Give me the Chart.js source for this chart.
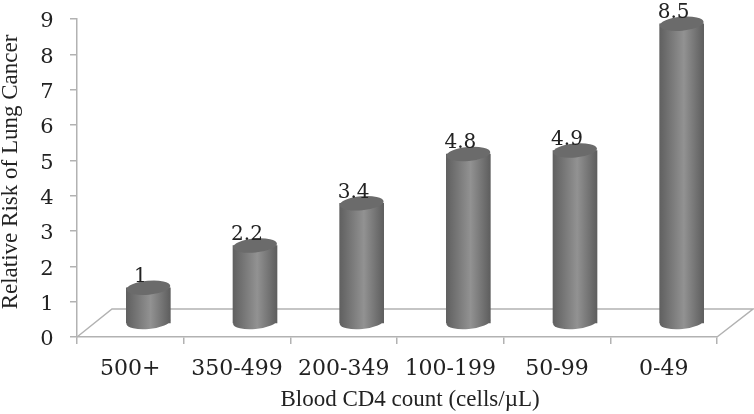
<!DOCTYPE html>
<html><head><meta charset="utf-8">
<style>html,body{margin:0;padding:0;background:#fff}#w{width:754px;height:414px}</style>
<script src="https://cdn.jsdelivr.net/npm/chart.js@4"></script></head>
<body><div id="w"><canvas id="c" width="754" height="414"></canvas></div>
<script>
const categories = ["500+","350-499","200-349","100-199","50-99","0-49"];
const risk = [1,2.2,3.4,4.8,4.9,8.5];
const riskLabels = ["1","2.2","3.4","4.8","4.9","8.5"];
const axisTicks = [0,1,2,3,4,5,6,7,8,9];
const xTitle = 'Blood CD4 count (cells/µL)';
const yTitle = 'Relative Risk of Lung Cancer';
const SERIF = '"Liberation Serif", serif';
const WIDE = '"DejaVu Serif", serif';
const LINE = '#b2b2b2';
const INK = '#222';
const DEPTH_X = 18, BACK_Y = 28, RX = 22, RY = 7, TILT = -0.09;

function cylGradient(c,x){
  const g = c.createLinearGradient(x-RX,0,x+RX,0);
  g.addColorStop(0,'#606060');
  g.addColorStop(0.55,'#929292');
  g.addColorStop(1,'#5e5e5e');
  return g;
}
function barFill(ctx){
  const ch = ctx.chart;
  if(!ch.chartArea) return '#808080';
  return cylGradient(ch.ctx,ch.scales.x.getPixelForValue(ctx.dataIndex));
}
const cylinder = {
  id:'cylinder',
  beforeDraw(ch){
    const {left,right,bottom} = ch.chartArea, c = ch.ctx;
    c.save();
    c.strokeStyle = LINE; c.lineWidth = 1.5;
    c.beginPath();
    c.moveTo(left,bottom);
    c.lineTo(left+DEPTH_X*2-1,bottom-BACK_Y);
    c.lineTo(right+DEPTH_X*2,bottom-BACK_Y);
    c.lineTo(right,bottom);
    c.stroke();
    c.restore();
  },
  beforeDatasetDraw(ch,args){
    const c = ch.ctx;
    c.save();
    c.translate(DEPTH_X,0);
    args.meta.data.forEach(b=>{
      c.fillStyle = cylGradient(c,b.x);
      c.beginPath();
      c.ellipse(b.x,b.base-1,RX,RY,TILT,0,Math.PI*2);
      c.fill();
    });
  },
  afterDatasetDraw(ch,args){
    const c = ch.ctx;
    args.meta.data.forEach((b,i)=>{
      c.fillStyle = '#6b6b6b';
      c.beginPath();
      c.ellipse(b.x,b.y,RX,RY,TILT,0,Math.PI*2);
      c.fill();
      c.fillStyle = INK;
      c.font = '20px '+WIDE;
      c.textAlign = 'center';
      c.textBaseline = 'bottom';
      c.fillText(riskLabels[i],b.x-8,b.y-1);
    });
    c.restore();
  },
  afterDraw(ch){
    const c = ch.ctx, y = ch.scales.y;
    c.save();
    c.fillStyle = INK;
    c.font = '21px '+WIDE;
    c.textAlign = 'center';
    c.textBaseline = 'middle';
    axisTicks.forEach(v=>c.fillText(String(v),ch.chartArea.left-30,y.getPixelForValue(v)+3));
    c.font = '23px '+SERIF;
    c.fillText(xTitle,ch.chartArea.left+333,ch.chartArea.bottom+63);
    c.translate(11,172);
    c.rotate(-Math.PI/2);
    c.fillText(yTitle,0,0);
    c.restore();
  }
};
new Chart(document.getElementById('c'),{
  type:'bar',
  data:{labels:categories,datasets:[{data:risk,yAxisID:'y2',backgroundColor:barFill,borderWidth:0,barThickness:RX*2,clip:false}]},
  plugins:[cylinder],
  options:{
    responsive:false,animation:false,
    layout:{padding:{top:19,right:37,left:0,bottom:0}},
    plugins:{legend:{display:false},tooltip:{enabled:false}},
    scales:{
      x:{
        offset:true,
        afterFit(a){a.height=77;a.paddingLeft=0;a.paddingRight=0;},
        grid:{drawOnChartArea:false,color:LINE,tickLength:7,lineWidth:1.5,offset:true},
        border:{color:LINE,width:1.5},
        ticks:{color:INK,font:{family:WIDE,size:22},padding:12,maxRotation:0}
      },
      y:{
        min:axisTicks[0],max:axisTicks[axisTicks.length-1],
        afterFit(a){a.width=77;a.paddingTop=0;a.paddingBottom=0;},
        afterBuildTicks(a){a.ticks=axisTicks.map(v=>({value:v}));},
        grid:{drawOnChartArea:false,color:LINE,tickLength:7,lineWidth:1.5},
        border:{color:LINE,width:1.5},
        ticks:{display:false}
      },
      y2:{display:false,min:-0.398,max:8.636,afterFit(a){a.width=0;a.paddingTop=0;a.paddingBottom=0;}}
    }
  }
});
</script></body></html>
